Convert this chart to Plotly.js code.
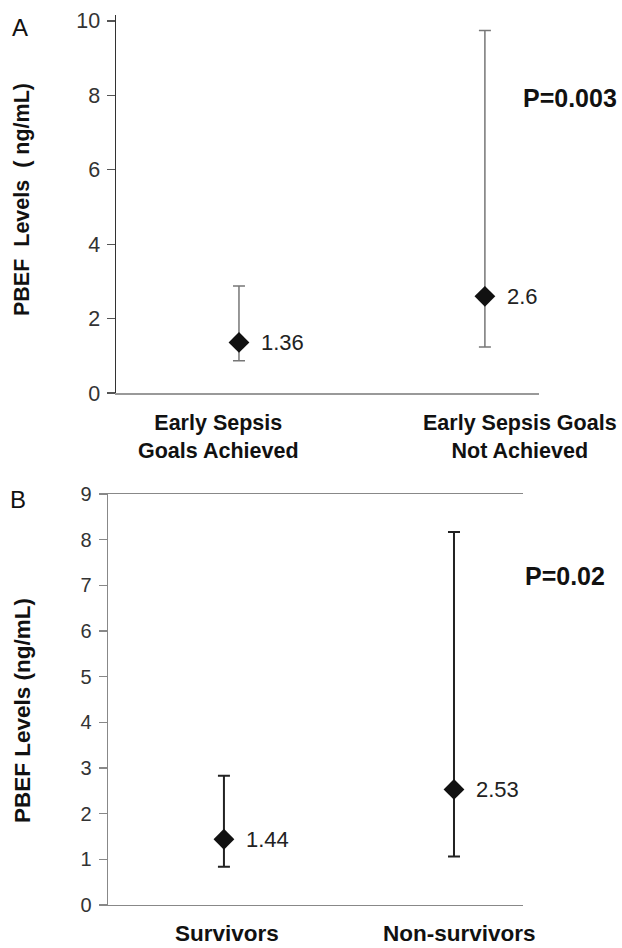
<!DOCTYPE html>
<html>
<head>
<meta charset="utf-8">
<script src="https://cdn.plot.ly/plotly-3.0.1.min.js"></script>
<style>html,body{margin:0;padding:0;background:#fff;}#chart{width:622px;height:948px;}</style>
</head>
<body>
<div id="chart"></div>
<script>
// Panel A data
const categoriesA = ['Early Sepsis<br>Goals Achieved', 'Early Sepsis Goals<br>Not Achieved'];
const meansA = [1.36, 2.6];
const upperA = [2.88, 9.74];
const lowerA = [0.87, 1.24];
const valueLabelsA = ['1.36', '2.6'];
const pValueA = 'P=0.003';
const yTicksA = [0, 2, 4, 6, 8, 10];

// Panel B data
const categoriesB = ['Survivors', 'Non-survivors'];
const meansB = [1.44, 2.53];
const upperB = [2.83, 8.17];
const lowerB = [0.84, 1.06];
const valueLabelsB = ['1.44', '2.53'];
const pValueB = 'P=0.02';
const yTicksB = [0, 1, 2, 3, 4, 5, 6, 7, 8, 9];

const FONT = 'Liberation Sans, Arial, Helvetica, sans-serif';

const traceA = {
  type: 'scatter', mode: 'markers',
  x: categoriesA, y: meansA, xaxis: 'x', yaxis: 'y',
  marker: {symbol: 'diamond', size: 16, color: '#111'},
  error_y: {type: 'data', symmetric: false,
    array: upperA.map((u, i) => u - meansA[i]),
    arrayminus: meansA.map((m, i) => m - lowerA[i]),
    color: '#777', thickness: 1.5, width: 6},
  hoverinfo: 'skip', showlegend: false
};
const traceB = {
  type: 'scatter', mode: 'markers',
  x: categoriesB, y: meansB, xaxis: 'x2', yaxis: 'y2',
  marker: {symbol: 'diamond', size: 16, color: '#111'},
  error_y: {type: 'data', symmetric: false,
    array: upperB.map((u, i) => u - meansB[i]),
    arrayminus: meansB.map((m, i) => m - lowerB[i]),
    color: '#222', thickness: 2, width: 6},
  hoverinfo: 'skip', showlegend: false
};

const annotations = [];
valueLabelsA.forEach((t, i) => annotations.push({
  xref: 'x', yref: 'y', x: categoriesA[i], y: meansA[i], text: t, showarrow: false,
  xanchor: 'left', yanchor: 'middle', xshift: 20, font: {family: FONT, size: 22, color: '#222'}
}));
valueLabelsB.forEach((t, i) => annotations.push({
  xref: 'x2', yref: 'y2', x: categoriesB[i], y: meansB[i], text: t, showarrow: false,
  xanchor: 'left', yanchor: 'middle', xshift: 20, font: {family: FONT, size: 22, color: '#222'}
}));
const catPosA = [0.3505, 0.836];
categoriesA.forEach((t, i) => annotations.push({
  xref: 'paper', yref: 'paper', x: catPosA[i], y: 0.5685, text: '<b>' + t + '</b>', showarrow: false,
  xanchor: 'center', yanchor: 'top', align: 'center', font: {family: FONT, size: 21.5, color: '#111'}
}));
const catPosB = [0.365, 0.7387];
categoriesB.forEach((t, i) => annotations.push({
  xref: 'paper', yref: 'paper', x: catPosB[i], y: 0, text: '<b>' + t + '</b>', showarrow: false,
  xanchor: 'center', yanchor: 'bottom', font: {family: FONT, size: 22.5, color: '#111'}
}));
annotations.push({xref: 'paper', yref: 'paper', x: 0.8376, y: 0.8966, text: '<b>' + pValueA + '</b>',
  showarrow: false, xanchor: 'left', yanchor: 'middle', font: {family: FONT, size: 25, color: '#111'}});
annotations.push({xref: 'paper', yref: 'paper', x: 0.8408, y: 0.3924, text: '<b>' + pValueB + '</b>',
  showarrow: false, xanchor: 'left', yanchor: 'middle', font: {family: FONT, size: 25, color: '#111'}});
annotations.push({xref: 'paper', yref: 'paper', x: 22/622, y: 0.789, text: '<b>PBEF  Levels  ( ng/mL)</b>',
  showarrow: false, textangle: -90, xanchor: 'center', yanchor: 'middle', font: {family: FONT, size: 21.5, color: '#111'}});
annotations.push({xref: 'paper', yref: 'paper', x: 22/622, y: 0.25, text: '<b>PBEF Levels (ng/mL)</b>',
  showarrow: false, textangle: -90, xanchor: 'center', yanchor: 'middle', font: {family: FONT, size: 22.5, color: '#111'}});
annotations.push({xref: 'paper', yref: 'paper', x: 10/622, y: 0.9705, text: 'A',
  showarrow: false, xanchor: 'left', yanchor: 'middle', font: {family: FONT, size: 24, color: '#111'}});
annotations.push({xref: 'paper', yref: 'paper', x: 8/622, y: 0.4736, text: 'B',
  showarrow: false, xanchor: 'left', yanchor: 'middle', font: {family: FONT, size: 24, color: '#111'}});

const layout = {
  width: 622, height: 948,
  margin: {l: 0, r: 0, t: 0, b: 0},
  paper_bgcolor: '#fff', plot_bgcolor: '#fff',
  showlegend: false,
  xaxis: {domain: [116/622, 539/622], anchor: 'y', type: 'category', range: [-0.5, 1.22],
    showline: true, linecolor: '#999', linewidth: 1.5, showgrid: false, zeroline: false,
    showticklabels: false, ticks: ''},
  yaxis: {domain: [0.5854, 0.9842], anchor: 'x', range: [0, 10.16],
    tickvals: yTicksA, ticktext: yTicksA.map(String),
    showline: true, linecolor: '#333', linewidth: 1.5, showgrid: false, zeroline: false,
    ticks: 'outside', ticklen: 8, tickcolor: '#555', tickwidth: 1.2,
    tickfont: {family: FONT, size: 21.5, color: '#333'}, ticklabelstandoff: 2},
  xaxis2: {domain: [108/622, 523/622], anchor: 'y2', type: 'category', range: [-0.504, 1.3],
    showline: true, mirror: true, linecolor: '#888', linewidth: 1.5, showgrid: false, zeroline: false,
    showticklabels: false, ticks: ''},
  yaxis2: {domain: [0.04536, 0.4789], anchor: 'x2', range: [0, 9],
    tickvals: yTicksB, ticktext: yTicksB.map(String),
    showline: true, linecolor: '#888', linewidth: 1.5, showgrid: false, zeroline: false,
    ticks: 'outside', ticklen: 8, tickcolor: '#888', tickwidth: 1.2,
    tickfont: {family: FONT, size: 20, color: '#333'}, ticklabelstandoff: 3},
  annotations: annotations
};

Plotly.newPlot('chart', [traceA, traceB], layout, {staticPlot: true, displayModeBar: false});
</script>
</body>
</html>
